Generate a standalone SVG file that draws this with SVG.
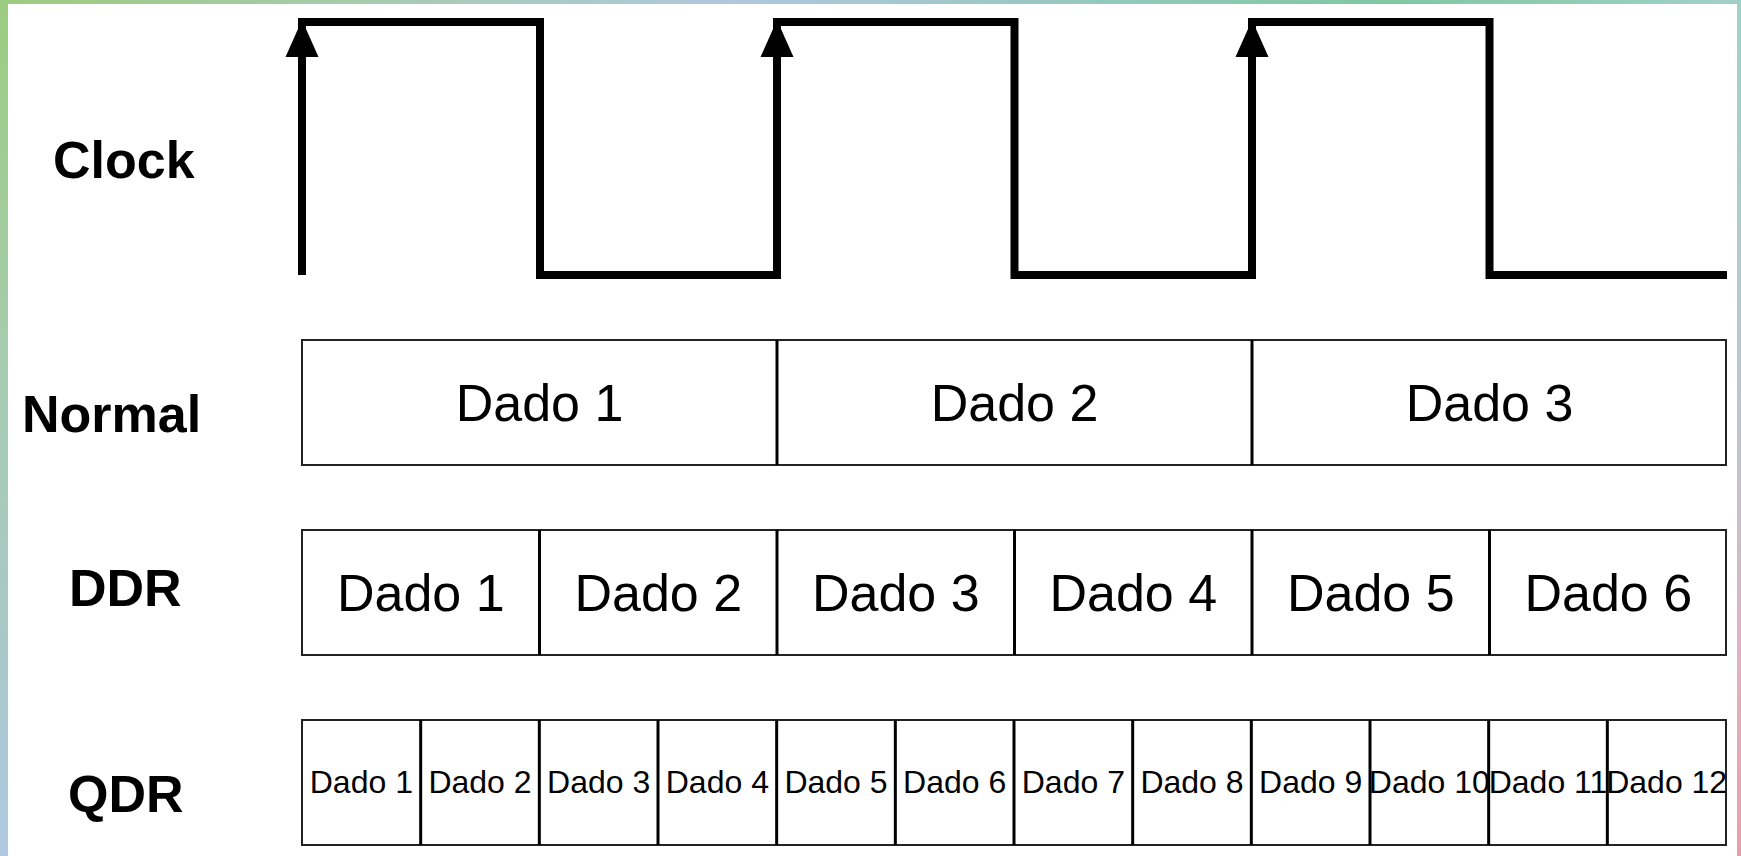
<svg xmlns="http://www.w3.org/2000/svg" xmlns:xlink="http://www.w3.org/1999/xlink" width="1741" height="856" viewBox="0 0 1741 856">
  <style>
    .label { font-family: "Liberation Sans", Arial, sans-serif; font-weight: bold; font-size: 52px; fill: #000; }
    .big { font-family: "Liberation Sans", Arial, sans-serif; font-size: 52px; fill: #000; text-anchor: middle; }
    .small { font-family: "Liberation Sans", Arial, sans-serif; font-size: 32px; fill: #000; text-anchor: middle; }
    .row { fill: #fff; stroke: #222; stroke-width: 2; }
    .div { stroke: #000; stroke-width: 3; }
    .wave { fill: none; stroke: #000; stroke-width: 8; stroke-linejoin: miter; stroke-linecap: butt; }
  </style>
  <defs>
    <linearGradient id="gLeft" x1="0" y1="0" x2="0" y2="1">
      <stop offset="0" stop-color="#9ccc80"/>
      <stop offset="0.45" stop-color="#a6ccb2"/>
      <stop offset="0.75" stop-color="#a8c8c8"/>
      <stop offset="1" stop-color="#b0c8e2"/>
    </linearGradient>
    <linearGradient id="gTop" x1="0" y1="0" x2="1" y2="0">
      <stop offset="0" stop-color="#9ccc80"/>
      <stop offset="0.22" stop-color="#a6ccb0"/>
      <stop offset="0.42" stop-color="#b0c8e0"/>
      <stop offset="0.8" stop-color="#80c8a2"/>
      <stop offset="1" stop-color="#a2d0c8"/>
    </linearGradient>
    <linearGradient id="gRight" x1="0" y1="0" x2="0" y2="1">
      <stop offset="0" stop-color="#a2d0c8"/>
      <stop offset="0.45" stop-color="#b8c8d0"/>
      <stop offset="0.75" stop-color="#dcb4c4"/>
      <stop offset="1" stop-color="#e8a0a8"/>
    </linearGradient>
    <path id="arrowhead" d="M0 -2 L16.5 35 L-16.5 35 Z" fill="#000"/>
  </defs>

  <rect x="0" y="0" width="1741" height="856" fill="#fff"/>
  <g id="frame">
    <rect x="0" y="0" width="8" height="856" fill="url(#gLeft)"/>
    <rect x="0" y="0" width="1741" height="4" fill="url(#gTop)"/>
    <rect x="1737" y="0" width="4" height="856" fill="url(#gRight)"/>
  </g>

  <g id="labels">
    <text id="label-clock" class="label" x="53" y="178">Clock</text>
    <text id="label-normal" class="label" x="22" y="432">Normal</text>
    <text id="label-ddr" class="label" x="69" y="606">DDR</text>
    <text id="label-qdr" class="label" x="68" y="812">QDR</text>
  </g>

  <g id="connectors">
    <g id="clock-signal">
      <path class="wave" d="M302 275 V22 H540 V275 H777 V22 H1014.5 V275 H1252 V22 H1489.5 V275 H1727"/>
      <use xlink:href="#arrowhead" x="302" y="22"/>
      <use xlink:href="#arrowhead" x="777" y="22"/>
      <use xlink:href="#arrowhead" x="1252" y="22"/>
    </g>
  </g>

  <g id="row-normal">
    <rect class="row" x="302" y="340" width="1424" height="125"/>
    <line class="div" x1="777" y1="340" x2="777" y2="465"/>
    <line class="div" x1="1252" y1="340" x2="1252" y2="465"/>
    <g id="normal-1"><text class="big" x="539.5" y="421">Dado 1</text></g>
    <g id="normal-2"><text class="big" x="1014.5" y="421">Dado 2</text></g>
    <g id="normal-3"><text class="big" x="1489.5" y="421">Dado 3</text></g>
  </g>

  <g id="row-ddr">
    <rect class="row" x="302" y="530" width="1424" height="125"/>
    <line class="div" x1="539.5" y1="530" x2="539.5" y2="655"/>
    <line class="div" x1="777" y1="530" x2="777" y2="655"/>
    <line class="div" x1="1014.5" y1="530" x2="1014.5" y2="655"/>
    <line class="div" x1="1252" y1="530" x2="1252" y2="655"/>
    <line class="div" x1="1489.5" y1="530" x2="1489.5" y2="655"/>
    <g id="ddr-1"><text class="big" x="420.75" y="611">Dado 1</text></g>
    <g id="ddr-2"><text class="big" x="658.25" y="611">Dado 2</text></g>
    <g id="ddr-3"><text class="big" x="895.75" y="611">Dado 3</text></g>
    <g id="ddr-4"><text class="big" x="1133.25" y="611">Dado 4</text></g>
    <g id="ddr-5"><text class="big" x="1370.75" y="611">Dado 5</text></g>
    <g id="ddr-6"><text class="big" x="1608.25" y="611">Dado 6</text></g>
  </g>

  <g id="row-qdr">
    <rect class="row" x="302" y="720" width="1424" height="125"/>
    <line class="div" x1="420.67" y1="720" x2="420.67" y2="845"/>
    <line class="div" x1="539.33" y1="720" x2="539.33" y2="845"/>
    <line class="div" x1="658" y1="720" x2="658" y2="845"/>
    <line class="div" x1="776.67" y1="720" x2="776.67" y2="845"/>
    <line class="div" x1="895.33" y1="720" x2="895.33" y2="845"/>
    <line class="div" x1="1014" y1="720" x2="1014" y2="845"/>
    <line class="div" x1="1132.67" y1="720" x2="1132.67" y2="845"/>
    <line class="div" x1="1251.33" y1="720" x2="1251.33" y2="845"/>
    <line class="div" x1="1370" y1="720" x2="1370" y2="845"/>
    <line class="div" x1="1488.67" y1="720" x2="1488.67" y2="845"/>
    <line class="div" x1="1607.33" y1="720" x2="1607.33" y2="845"/>
    <g id="qdr-1"><text class="small" x="361.33" y="793">Dado 1</text></g>
    <g id="qdr-2"><text class="small" x="480" y="793">Dado 2</text></g>
    <g id="qdr-3"><text class="small" x="598.67" y="793">Dado 3</text></g>
    <g id="qdr-4"><text class="small" x="717.33" y="793">Dado 4</text></g>
    <g id="qdr-5"><text class="small" x="836" y="793">Dado 5</text></g>
    <g id="qdr-6"><text class="small" x="954.67" y="793">Dado 6</text></g>
    <g id="qdr-7"><text class="small" x="1073.33" y="793">Dado 7</text></g>
    <g id="qdr-8"><text class="small" x="1192" y="793">Dado 8</text></g>
    <g id="qdr-9"><text class="small" x="1310.67" y="793">Dado 9</text></g>
    <g id="qdr-10"><text class="small" x="1429.33" y="793">Dado 10</text></g>
    <g id="qdr-11"><text class="small" x="1548" y="793">Dado 11</text></g>
    <g id="qdr-12"><text class="small" x="1666.67" y="793">Dado 12</text></g>
  </g>
</svg>
